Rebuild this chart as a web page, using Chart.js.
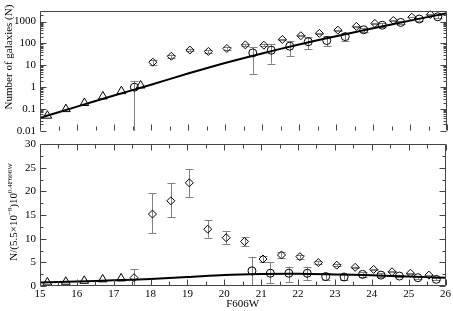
<!DOCTYPE html>
<html>
<head>
<meta charset="UTF-8">
<title>Galaxy counts F606W</title>
<script src="https://cdn.jsdelivr.net/npm/chart.js@4.4.0/dist/chart.umd.min.js"></script>
<style>
    body { margin: 0; background: #fff; }
    #wrap { position: relative; width: 453px; height: 311px; }
    canvas { position: absolute; left: 0; top: 0; }
</style>
</head>
<body>
<div id="wrap">
    <canvas id="topChart" width="453" height="311"></canvas>
    <canvas id="botChart" width="453" height="311"></canvas>
</div>

<script>
// tick labels
const xTicks = [15, 16, 17, 18, 19, 20, 21, 22, 23, 24, 25, 26];
const topYTicks = [0.01, 0.1, 1, 10, 100, 1000];
const botYTicks = [0, 5, 10, 15, 20, 25, 30];

// model curve
const modelMag = [15, 16, 17, 18, 19, 20, 21, 22, 23, 24, 25, 26];
const modelTop = [0.04, 0.13, 0.42, 1.3, 4.2, 12.8, 35, 90, 214, 490, 1100, 2420];
const modelBot = [0.72, 0.95, 1.2, 1.5, 1.9, 2.35, 2.55, 2.6, 2.45, 2.25, 2.0, 1.75];

// triangles
const triMagTop = [15.2, 15.7, 16.2, 16.7, 17.2, 17.72];
const triTop = [0.05, 0.1, 0.19, 0.38, 0.66, 1.2];
const triMagBot = [15.2, 15.7, 16.2, 16.7, 17.2];
const triBot = [0.75, 0.9, 1.1, 1.4, 1.6];

// diamonds
const diaMagTop = [18.05, 18.55, 19.05, 19.55, 20.05, 20.55, 21.05, 21.55, 22.05, 22.55, 23.05, 23.55, 24.05, 24.55, 25.05, 25.55];
const diaTop = [13.9, 26, 50, 43, 59, 86, 83, 152, 225, 290, 405, 600, 820, 1120, 1580, 2100];
const diaTopLo = [10.2, 20.9, 42.9, 36.4, 51.3, 76.7, 73.9, 139.7, 210, 273, 385, 575, 791, 1087, 1540, 2054];
const diaTopHi = [17.6, 31.1, 57.1, 49.6, 66.7, 95.3, 92.1, 164.3, 240, 307, 425, 625, 849, 1153, 1620, 2146];

const diaMagBot = [17.55, 18.05, 18.55, 19.05, 19.55, 20.05, 20.55, 21.05, 21.55, 22.05, 22.55, 23.05, 23.55, 24.05, 24.55, 25.05, 25.55];
const diaBot = [1.75, 15.2, 18.0, 21.8, 12.0, 10.2, 9.4, 5.7, 6.55, 6.2, 4.95, 4.4, 3.95, 3.5, 3.0, 2.7, 2.3];
const diaBotLo = [0, 11.2, 14.5, 18.7, 10.2, 8.9, 8.5, 5.0, 6.0, 5.8, 4.65, 4.2, 3.8, 3.4, 2.9, 2.6, 2.25];
const diaBotHi = [3.5, 19.6, 21.7, 24.7, 13.9, 11.6, 10.3, 6.4, 7.1, 6.6, 5.25, 4.6, 4.1, 3.6, 3.1, 2.8, 2.35];

// circles
const cirMagTop = [17.55, 20.75, 21.25, 21.75, 22.25, 22.75, 23.25, 23.75, 24.25, 24.75, 25.25, 25.75];
const cirTop = [1.0, 37, 49, 75, 120, 136, 205, 420, 680, 910, 1300, 1650];
const cirTopLo = [0.001, 4.1, 12, 26, 54, 76, 135, 330, 560, 800, 1100, 1400];
const cirTopHi = [2.0, 68, 94, 130, 190, 220, 300, 520, 820, 1050, 1500, 1900];

const cirMagBot = [20.75, 21.25, 21.75, 22.25, 22.75, 23.25, 23.75, 24.25, 24.75, 25.25, 25.75];
const cirBot = [3.2, 2.7, 2.7, 2.7, 2.0, 1.9, 2.45, 2.3, 2.1, 1.75, 1.4];
const cirBotLo = [0.2, 0.6, 0.9, 1.3, 1.3, 1.3, 1.95, 1.9, 1.8, 1.5, 1.2];
const cirBotHi = [6.2, 5.0, 4.1, 4.1, 2.7, 2.5, 2.95, 2.7, 2.4, 2.0, 1.6];

const FONT = 'Liberation Serif';
const FRAME = '#444';

function pts(xs, ys) {
    return xs.map((m, i) => ({ x: m, y: ys[i] }));
}

function markers(xs, ys, style, r, lo, hi) {
    return {
        data: pts(xs, ys),
        showLine: false,
        pointStyle: style,
        pointRadius: r,
        pointBorderColor: '#000',
        pointBorderWidth: 1,
        pointBackgroundColor: 'rgba(0,0,0,0)',
        errLo: lo,
        errHi: hi
    };
}

function modelLine(ys) {
    return {
        type: 'line',
        data: pts(modelMag, ys),
        borderColor: '#000',
        borderWidth: 2,
        pointRadius: 0,
        tension: 0.3,
        fill: false
    };
}

// error bars, drawn through the scales
const errorBars = {
    id: 'errorBars',
    beforeDatasetsDraw(chart) {
        const { ctx, chartArea: a, scales: { x, y } } = chart;
        ctx.save();
        ctx.beginPath();
        ctx.rect(a.left, a.top, a.right - a.left, a.bottom - a.top);
        ctx.clip();
        ctx.strokeStyle = '#808080';
        ctx.lineWidth = 1;
        chart.data.datasets.forEach(ds => {
            if (!ds.errLo) return;
            ds.data.forEach((p, i) => {
                const px = Math.round(x.getPixelForValue(p.x)) + 0.5;
                const y1 = y.getPixelForValue(ds.errLo[i]);
                const y2 = y.getPixelForValue(ds.errHi[i]);
                ctx.beginPath();
                ctx.moveTo(px, y1);
                ctx.lineTo(px, y2);
                ctx.moveTo(px - 4, Math.round(y1) + 0.5);
                ctx.lineTo(px + 4, Math.round(y1) + 0.5);
                ctx.moveTo(px - 4, Math.round(y2) + 0.5);
                ctx.lineTo(px + 4, Math.round(y2) + 0.5);
                ctx.stroke();
            });
        });
        ctx.restore();
    }
};

// frame and inward ticks
function framePlugin(cfg) {
    return {
        id: 'frame',
        afterDraw(chart) {
            const { ctx, chartArea: a, scales: { x, y } } = chart;
            const L = Math.round(a.left) + 0.5, R = Math.round(a.right) - 0.5;
            const T = Math.round(a.top) + 0.5, B = Math.round(a.bottom) - 0.5;
            ctx.save();
            ctx.strokeStyle = FRAME;
            ctx.lineWidth = 1;
            ctx.beginPath();
            ctx.moveTo(L, B); ctx.lineTo(L, T); ctx.lineTo(R, T); ctx.lineTo(R, B);
            if (cfg.bottomLine) ctx.lineTo(L, B);
            // x ticks
            for (let v = 15; v <= 26.01; v += 0.5) {
                const px = Math.round(x.getPixelForValue(v)) + 0.5;
                const len = Number.isInteger(v) ? 6 : 4;
                ctx.moveTo(px, B); ctx.lineTo(px, B - len);
                if (cfg.topTicks) { ctx.moveTo(px, T); ctx.lineTo(px, T + len); }
            }
            // y ticks
            cfg.yMajor.forEach(v => {
                const py = Math.round(y.getPixelForValue(v)) + 0.5;
                ctx.moveTo(L, py); ctx.lineTo(L + 6, py);
                ctx.moveTo(R, py); ctx.lineTo(R - 6, py);
            });
            cfg.yMinor.forEach(v => {
                const py = Math.round(y.getPixelForValue(v)) + 0.5;
                ctx.moveTo(L, py); ctx.lineTo(L + 3, py);
                ctx.moveTo(R, py); ctx.lineTo(R - 3, py);
            });
            ctx.stroke();

            // y axis title
            ctx.fillStyle = '#000';
            cfg.title(ctx);
            ctx.restore();
        }
    };
}

const logMinor = [];
[0.01, 0.1, 1, 10, 100, 1000].forEach(d => {
    for (let k = 2; k <= 9; k++) if (d * k < 3162) logMinor.push(d * k);
});

function yAxisOpts(extra) {
    return Object.assign({
        grid: { display: false, drawTicks: false },
        border: { display: false },
        ticks: { font: { family: FONT, size: 11 }, color: '#000', padding: 4 },
        afterFit(s) { s.width = 40; }
    }, extra);
}

// top panel
new Chart(document.getElementById('topChart'), {
    type: 'scatter',
    data: {
        datasets: [
            modelLine(modelTop),
            markers(triMagTop, triTop, 'triangle', 5),
            markers(diaMagTop, diaTop, 'rectRot', 4, diaTopLo, diaTopHi),
            markers(cirMagTop, cirTop, 'circle', 4, cirTopLo, cirTopHi)
        ]
    },
    options: {
        responsive: false,
        animation: false,
        layout: { padding: { left: 0, right: 6, top: 0, bottom: 180 } },
        plugins: { legend: { display: false }, tooltip: { enabled: false } },
        scales: {
            x: {
                type: 'linear', min: 15, max: 26,
                ticks: { display: false },
                grid: { display: false, drawTicks: false },
                border: { display: false },
                afterFit(s) { s.height = 0; }
            },
            y: yAxisOpts({
                type: 'logarithmic', min: 0.01, max: 3162,
                afterBuildTicks(s) { s.ticks = topYTicks.map(v => ({ value: v })); },
                ticks: {
                    font: { family: FONT, size: 11 }, color: '#000', padding: 4,
                    callback: v => String(v)
                }
            })
        }
    },
    plugins: [errorBars, framePlugin({
        bottomLine: false, topTicks: false,
        yMajor: topYTicks, yMinor: logMinor,
        title(ctx) {
            ctx.translate(9, 57);
            ctx.rotate(-Math.PI / 2);
            ctx.font = '11px ' + FONT;
            ctx.textAlign = 'center';
            ctx.textBaseline = 'middle';
            ctx.fillText('Number of galaxies (N)', 0, 0);
        }
    })]
});

// bottom panel
new Chart(document.getElementById('botChart'), {
    type: 'scatter',
    data: {
        datasets: [
            modelLine(modelBot),
            markers(triMagBot, triBot, 'triangle', 5),
            markers(diaMagBot, diaBot, 'rectRot', 4, diaBotLo, diaBotHi),
            markers(cirMagBot, cirBot, 'circle', 4, cirBotLo, cirBotHi)
        ]
    },
    options: {
        responsive: false,
        animation: false,
        layout: { padding: { left: 0, right: 6, top: 144, bottom: 0 } },
        plugins: { legend: { display: false }, tooltip: { enabled: false } },
        scales: {
            x: {
                type: 'linear', min: 15, max: 26,
                afterBuildTicks(s) { s.ticks = xTicks.map(v => ({ value: v })); },
                ticks: { font: { family: FONT, size: 11 }, color: '#000', padding: 2, maxRotation: 0 },
                grid: { display: false, drawTicks: false },
                border: { display: false },
                title: { display: true, text: 'F606W', font: { family: FONT, size: 11 }, color: '#000', padding: 0 },
                afterFit(s) { s.height = 25; }
            },
            y: yAxisOpts({
                type: 'linear', min: 0, max: 30,
                afterBuildTicks(s) { s.ticks = botYTicks.map(v => ({ value: v })); }
            })
        }
    },
    plugins: [errorBars, framePlugin({
        bottomLine: true, topTicks: true,
        yMajor: botYTicks, yMinor: [2.5, 7.5, 12.5, 17.5, 22.5, 27.5],
        title(ctx) {
            const parts = [
                ['N/(5.5\u00d710', 11, 0],
                ['\u22128', 7, -5],
                [')10', 11, 0],
                ['0.4F606W', 7, -5]
            ];
            let total = 0;
            parts.forEach(p => { ctx.font = p[1] + 'px ' + FONT; total += ctx.measureText(p[0]).width; });
            ctx.translate(17, 212 + total / 2);
            ctx.rotate(-Math.PI / 2);
            ctx.textAlign = 'left';
            ctx.textBaseline = 'alphabetic';
            let off = 0;
            parts.forEach(p => {
                ctx.font = p[1] + 'px ' + FONT;
                ctx.fillText(p[0], off, p[2]);
                off += ctx.measureText(p[0]).width;
            });
        }
    })]
});
</script>
</body>
</html>
